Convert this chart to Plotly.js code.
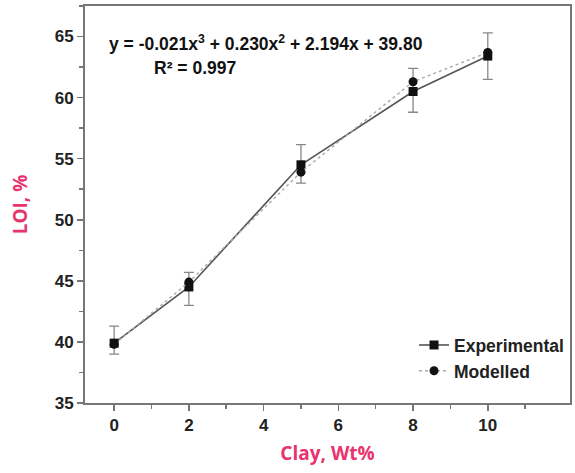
<!DOCTYPE html>
<html>
<head>
<meta charset="utf-8">
<script src="https://cdn.plot.ly/plotly-3.0.1.min.js"></script>
<style>html,body{margin:0;padding:0;background:#fff;}#chart{width:575px;height:473px;}</style>
</head>
<body>
<div id="chart"></div>
<script>
const clay = [0, 2, 5, 8, 10];
const loiExperimental = [39.9, 44.5, 54.5, 60.5, 63.4];
const errPlus = [1.4, 1.2, 1.65, 1.9, 1.9];
const errMinus = [0.9, 1.5, 1.5, 1.7, 1.9];
const loiModelled = [39.8, 44.9, 53.9, 61.3, 63.7];
const xTicks = [0, 2, 4, 6, 8, 10];
const yTicks = [35, 40, 45, 50, 55, 60, 65];

const traces = [
  {
    x: clay, y: loiExperimental, name: 'Experimental', type: 'scatter', mode: 'lines+markers',
    line: {color: '#555555', width: 1.6},
    marker: {symbol: 'square', size: 9, color: '#111111'},
    error_y: {type: 'data', symmetric: false, array: errPlus, arrayminus: errMinus, color: '#888888', thickness: 1.3, width: 5}
  },
  {
    x: clay, y: loiModelled, name: 'Modelled', type: 'scatter', mode: 'lines+markers',
    line: {color: '#aaaaaa', width: 1.4, dash: 'dot'},
    marker: {symbol: 'circle', size: 9, color: '#111111'}
  }
];

const axisCommon = {
  showline: true, linecolor: '#777777', linewidth: 2, mirror: true,
  ticks: 'outside', ticklen: 6, tickwidth: 1.5, tickcolor: '#777777',
  showgrid: false, zeroline: false,
  tickfont: {family: 'Arial, Liberation Sans, sans-serif', size: 17, color: '#222222', weight: 'bold'}
};

const layout = {
  width: 575, height: 473,
  margin: {l: 85, r: 5, t: 6, b: 70},
  paper_bgcolor: '#ffffff', plot_bgcolor: '#ffffff',
  showlegend: true,
  legend: {
    x: 0.998, xanchor: 'right', y: 0.035, yanchor: 'bottom',
    bgcolor: 'rgba(0,0,0,0)', tracegroupgap: 0,
    font: {family: 'Arial, Liberation Sans, sans-serif', size: 17.5, color: '#222222', weight: 'bold'}
  },
  xaxis: Object.assign({}, axisCommon, {
    range: [-0.78, 12.2], tickvals: xTicks, ticktext: xTicks.map(String),
    minor: {tickvals: [1, 3, 5, 7, 9, 11], ticks: 'outside', ticklen: 4, tickcolor: '#777777', tickwidth: 1.5},
    title: {text: 'Clay, Wt%', standoff: 12, font: {family: 'Open Sans, sans-serif', size: 19, color: '#e8336d', weight: 'bold'}}
  }),
  yaxis: Object.assign({}, axisCommon, {
    range: [35, 67.5], tickvals: yTicks, ticktext: yTicks.map(String),
    minor: {tickvals: [37.5, 42.5, 47.5, 52.5, 57.5, 62.5, 67.5], ticks: 'outside', ticklen: 4, tickcolor: '#777777', tickwidth: 1.5},
    title: {text: 'LOI, %', standoff: 22, font: {family: 'Open Sans, sans-serif', size: 19, color: '#e8336d', weight: 'bold'}}
  }),
  annotations: [
    {xref: 'paper', yref: 'paper', x: 0.045, y: 0.907, xanchor: 'left', yanchor: 'middle', showarrow: false,
     text: 'y = -0.021x<sup>3</sup> + 0.230x<sup>2</sup> + 2.194x + 39.80',
     font: {family: 'Arial, Liberation Sans, sans-serif', size: 17.5, color: '#111111', weight: 'bold'}},
    {xref: 'paper', yref: 'paper', x: 0.138, y: 0.845, xanchor: 'left', yanchor: 'middle', showarrow: false,
     text: 'R² = 0.997',
     font: {family: 'Arial, Liberation Sans, sans-serif', size: 17.5, color: '#111111', weight: 'bold'}}
  ]
};

Plotly.newPlot('chart', traces, layout, {displayModeBar: false, staticPlot: true});
</script>
</body>
</html>
